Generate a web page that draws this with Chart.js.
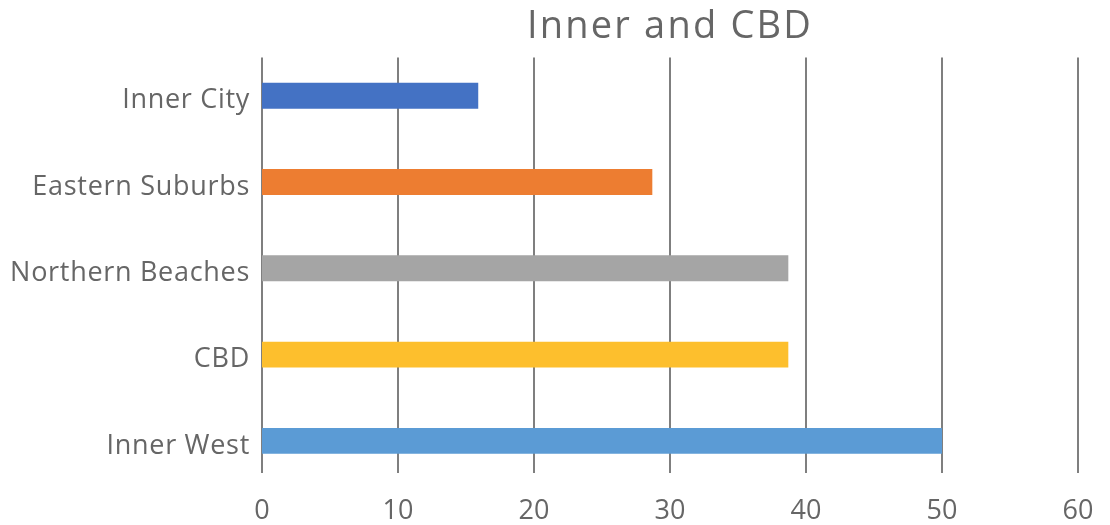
<!DOCTYPE html>
<html>
<head>
<meta charset="utf-8">
<script src="https://cdn.jsdelivr.net/npm/chart.js@4/dist/chart.umd.min.js"></script>
<style>
html,body{margin:0;padding:0;background:#fff;}
#wrap{width:1110px;height:525px;position:relative;}
</style>
</head>
<body>
<div id="wrap"><canvas id="c" width="1110" height="525"></canvas></div>
<script>
const titleText = "Inner and CBD";
const categories = ["Inner City", "Eastern Suburbs", "Northern Beaches", "CBD", "Inner West"];
const values = [15.9, 28.7, 38.7, 38.7, 50];
const barColors = ["#4472C4", "#ED7D31", "#A5A5A5", "#FDBF2D", "#5B9BD5"];
const xMin = 0, xMax = 60, xStep = 10;

const FONT = "'Open Sans', Lato, sans-serif";
const TEXT = "#666666";

const gridPlugin = {
  id: 'vgrid',
  beforeDatasetsDraw(chart) {
    const {ctx, chartArea, scales} = chart;
    const x = scales.x;
    ctx.save();
    ctx.strokeStyle = '#7f7f7f';
    ctx.lineWidth = 2;
    for (let v = xMin; v <= xMax; v += xStep) {
      const px = Math.round(x.getPixelForValue(v));
      ctx.beginPath();
      ctx.moveTo(px, chartArea.top + 5);
      ctx.lineTo(px, chartArea.bottom - 11);
      ctx.stroke();
    }
    ctx.restore();
  }
};

function withSpacing(obj, method, spacing) {
  if (!obj || obj['__sp_' + method]) return;
  const orig = obj[method];
  obj[method] = function (...args) {
    const ctx = this.ctx;
    ctx.save();
    try { ctx.letterSpacing = spacing; } catch (e) {}
    const r = orig.apply(this, args);
    ctx.restore();
    return r;
  };
  obj['__sp_' + method] = true;
}

const spacingPlugin = {
  id: 'spacing',
  beforeDraw(chart) {
    withSpacing(chart.titleBlock, 'draw', '2.2px');
    withSpacing(chart.scales.y, 'drawLabels', '0.7px');
  }
};

new Chart(document.getElementById('c'), {
  type: 'bar',
  data: {
    labels: categories,
    datasets: [{
      data: values,
      backgroundColor: barColors,
      borderWidth: 0,
      barPercentage: 1,
      categoryPercentage: 0.30
    }]
  },
  plugins: [gridPlugin, spacingPlugin],
  options: {
    indexAxis: 'y',
    responsive: false,
    animation: false,
    devicePixelRatio: 1,
    layout: { padding: { left: 0, right: 32, top: 0, bottom: 0 } },
    plugins: {
      legend: { display: false },
      tooltip: { enabled: false },
      title: {
        display: true,
        text: titleText,
        fullSize: false,
        color: TEXT,
        font: { family: FONT, size: 38, weight: 'normal', lineHeight: 1.2 },
        padding: { top: 4, bottom: 3 }
      }
    },
    scales: {
      x: {
        min: xMin, max: xMax,
        ticks: { stepSize: xStep, color: TEXT, padding: 11, font: { family: FONT, size: 27 } },
        grid: { display: false, drawTicks: false },
        border: { display: false },
        afterFit(s) { s.height = 41; }
      },
      y: {
        ticks: { color: TEXT, padding: 12, labelOffset: 5, font: { family: FONT, size: 27 } },
        grid: { display: false, drawTicks: false },
        border: { display: false },
        afterFit(s) { s.width = 262; }
      }
    }
  }
});
</script>
</body>
</html>
